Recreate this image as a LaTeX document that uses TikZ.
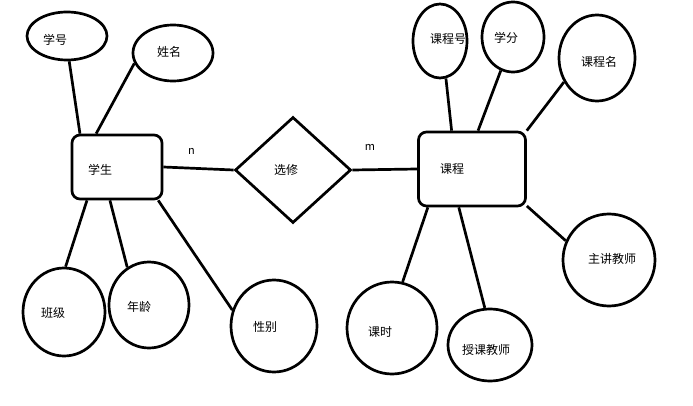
\documentclass[tikz,border=0pt]{standalone}
\usepackage{fontspec}
\setmainfont{Noto Sans CJK SC}
\usetikzlibrary{shapes.geometric}

\begin{document}
\begin{tikzpicture}[x=1pt, y=-1pt, line width=2.7pt,
  attr/.style={draw, ellipse, inner sep=0pt},
  entity/.style={draw, rounded corners=8pt, inner sep=0pt},
  relation/.style={draw, diamond, inner sep=0pt},
  card/.style={font=\fontsize{11}{13}\selectfont, inner sep=0pt},
  every label/.style={font=\fontsize{12}{14}\selectfont, inner sep=0pt}]
\useasboundingbox (0,0) rectangle (693,406);

% entities and relation
\node[entity, minimum width=90pt, minimum height=64pt, label={[xshift=-17pt, yshift=-3pt]center:学生}] (stu) at (117,167) {};
\node[entity, minimum width=107pt, minimum height=74pt, label={[xshift=-20pt]center:课程}] (course) at (472,169) {};
\node[relation, minimum width=116pt, minimum height=106pt, label={[xshift=-7pt]center:选修}] (sel) at (293,170) {};

% attributes of the student
\node[attr, minimum width=80pt, minimum height=48pt, label={[xshift=-12pt, yshift=-4pt]center:学号}] (xuehao) at (67,36) {};
\node[attr, minimum width=80pt, minimum height=56pt, label={[xshift=-4pt, yshift=1pt]center:姓名}] (xingming) at (173,53) {};
\node[attr, minimum width=82pt, minimum height=88pt, label={[xshift=-11pt, yshift=-1pt]center:班级}] (banji) at (64,312) {};
\node[attr, minimum width=80pt, minimum height=86pt, label={[xshift=-10pt, yshift=-2pt]center:年龄}] (nianling) at (149,305) {};
\node[attr, minimum width=86pt, minimum height=92pt, label={[xshift=-9pt, yshift=-1pt]center:性别}] (xingbie) at (274,326) {};

% attributes of the course
\node[attr, minimum width=54pt, minimum height=74pt, label={[xshift=8pt, yshift=2pt]center:课程号}] (kch) at (440,41) {};
\node[attr, minimum width=62pt, minimum height=70pt, label={[xshift=-7pt, yshift=-1pt]center:学分}] (xuefen) at (513,37) {};
\node[attr, minimum width=76pt, minimum height=86pt, label={[xshift=2pt, yshift=-4pt]center:课程名}] (kcm) at (597,58) {};
\node[attr, minimum width=90pt, minimum height=92pt, label={[xshift=-12pt, yshift=-4pt]center:课时}] (keshi) at (392,328) {};
\node[attr, minimum width=84pt, minimum height=72pt, label={[xshift=-4pt, yshift=-5pt]center:授课教师}] (skjs) at (490,345) {};
\node[attr, minimum width=92pt, minimum height=92pt, label={[xshift=3pt, yshift=1pt]center:主讲教师}] (zjjs) at (609,260) {};

% connectors
\draw (xuehao.-85) -- (stu.138);
\draw (xingming.-165) -- (stu.122);
\draw (banji.88) -- (stu.-132);
\draw (nianling.120) -- (stu.-102);
\draw (xingbie.159) -- (stu.-39);
\draw (stu.east) -- (sel.west) node[card, pos=0.4, above=12pt] (n) {n};
\draw (sel.east) -- (course.west) node[card, pos=0.27, above=18pt] (m) {m};
\draw (kch.-81) -- (course.118);
\draw (xuefen.-110) -- (course.81);
\draw (kcm.-144) -- (course.35);
\draw (keshi.77) -- (course.-139);
\draw (skjs.98) -- (course.-109);
\draw (zjjs.156) -- (course.-34);
\end{tikzpicture}
\end{document}
